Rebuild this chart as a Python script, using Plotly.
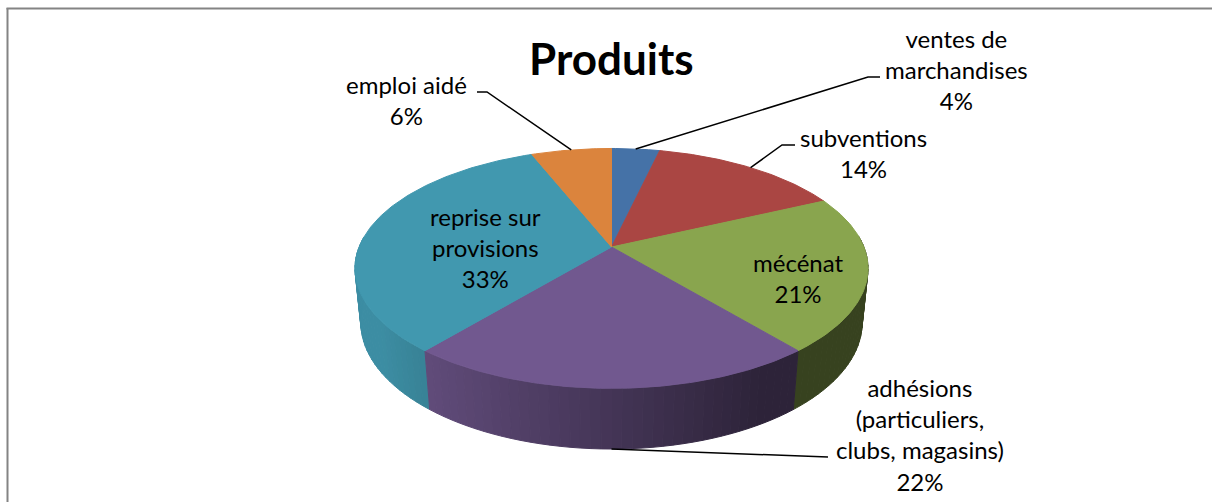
import numpy as np
import plotly.graph_objects as go

# ---------------- data ----------------
title_text = "Produits"
labels = ["ventes de<br>marchandises", "subventions", "mécénat",
          "adhésions<br>(particuliers,<br>clubs, magasins)",
          "reprise sur<br>provisions", "emploi aidé"]
values = [3.6, 14.4, 21, 22, 33, 6]
colors = ["#4572A7", "#AA4643", "#89A54E", "#71588F", "#4198AF", "#DB843D"]

# ---------------- layout / projection parameters ----------------
W, H = 1212, 502
CX, CY = 611.5, 247.0          # projected centre of top face
F, D = 1255.7, 4.975           # focal length, camera distance
SA = 0.46
CA = float(np.sqrt(1 - SA ** 2))
T = 0.2427                     # thickness of the pie
FONT = "Lato"

# label block positions (pixels) and leader line elbow points
label_pos = [(956, 69), (863, 153), (798, 278), (920, 434), (485, 247), (406, 100)]
leader_pts = {0: [(880, 77), (868, 77)], 1: [(795, 145), (782, 145)],
              3: [(828, 457)], 5: [(477, 92), (487, 92)]}


def proj(theta, h=0.0, r=1.0):
    u = r * np.sin(theta)
    w = r * np.cos(theta)
    yc = h * CA + w * SA
    d = D - h * SA + w * CA
    return CX + F * u / d, CY - F * yc / d


def shade(hexcol, f):
    hexcol = hexcol.lstrip("#")
    r, g, b = (int(hexcol[i:i + 2], 16) for i in (0, 2, 4))
    return "rgb(%d,%d,%d)" % (round(r * f), round(g * f), round(b * f))


total = float(sum(values))
fracs = [v / total for v in values]
starts = np.concatenate([[0.0], np.cumsum(fracs)[:-1]]) * 2 * np.pi
ends = np.cumsum(fracs) * 2 * np.pi
mids = (starts + ends) / 2

fig = go.Figure()

# ---- walls (drawn far to near) ----
segs = []
step = np.radians(2.0)
for i, (a0, a1) in enumerate(zip(starts, ends)):
    n = max(1, int(np.ceil((a1 - a0) / step)))
    edges = np.linspace(a0, a1, n + 1)
    for ea, eb in zip(edges[:-1], edges[1:]):
        m = (ea + eb) / 2
        if np.cos(m) < 0.08:
            segs.append((np.cos(m), i, ea, eb))
segs.sort(key=lambda s: -s[0])
for _, i, ea, eb in segs:
    th = np.linspace(ea, eb, 4)
    xt, yt = proj(th, 0.0)
    xb, yb = proj(th[::-1], -T)
    xs = np.concatenate([xt, xb, xt[:1]])
    ys = np.concatenate([yt, yb, yt[:1]])
    f = float(np.clip(0.6 - 0.4 * np.sin((ea + eb) / 2), 0.40, 0.93))
    col = shade(colors[i], f)
    fig.add_trace(go.Scatter(x=xs, y=ys, mode="lines", fill="toself",
                             fillcolor=col, line=dict(color=col, width=1),
                             hoverinfo="skip", showlegend=False))

# ---- top faces ----
for i, (a0, a1) in enumerate(zip(starts, ends)):
    n = max(3, int(np.ceil(np.degrees(a1 - a0))))
    th = np.linspace(a0, a1, n + 1)
    xa, ya = proj(th, 0.0)
    xs = np.concatenate([[CX], xa, [CX]])
    ys = np.concatenate([[CY], ya, [CY]])
    fig.add_trace(go.Scatter(x=xs, y=ys, mode="lines", fill="toself",
                             fillcolor=colors[i], line=dict(color=colors[i], width=1),
                             hoverinfo="skip", showlegend=False))

# ---- leader lines ----
for i, pts in leader_pts.items():
    if i == 3:
        ex, ey = proj(mids[i], -T)
    else:
        ex, ey = proj(mids[i], 0.0)
    xs = [p[0] for p in pts] + [float(ex)]
    ys = [p[1] for p in pts] + [float(ey)]
    fig.add_trace(go.Scatter(x=xs, y=ys, mode="lines",
                             line=dict(color="black", width=1.5),
                             hoverinfo="skip", showlegend=False))

# ---- labels ----
annotations = []
for i, lab in enumerate(labels):
    pct = "%.0f%%" % (fracs[i] * 100)
    annotations.append(dict(x=label_pos[i][0], y=label_pos[i][1], xref="x", yref="y",
                            text=lab + "<br>" + pct, showarrow=False,
                            xanchor="center", yanchor="middle", align="center",
                            font=dict(family=FONT, size=24, color="#000000")))
annotations.append(dict(x=611.5, y=58, xref="x", yref="y", text="<b>" + title_text + "</b>",
                        showarrow=False, xanchor="center", yanchor="middle",
                        font=dict(family=FONT, size=44, color="#000000")))

shapes = [
    dict(type="rect", xref="paper", yref="paper", x0=0.985, x1=1.0, y0=0, y1=1,
         fillcolor="white", line=dict(width=0), layer="above"),
    dict(type="line", xref="x", yref="y", x0=7.5, x1=7.5, y0=8, y1=H + 5,
         line=dict(color="#848484", width=2), layer="above"),
    dict(type="line", xref="x", yref="y", x0=6.5, x1=W + 5, y0=8.5, y1=8.5,
         line=dict(color="#848484", width=2), layer="above"),
]

fig.update_layout(
    width=W, height=H,
    margin=dict(l=0, r=0, t=0, b=0),
    paper_bgcolor="white", plot_bgcolor="white",
    xaxis=dict(range=[0, W], visible=False, fixedrange=True),
    yaxis=dict(range=[H, 0], visible=False, fixedrange=True),
    annotations=annotations, shapes=shapes, showlegend=False,
)

fig.write_html("out.html", config={"displayModeBar": False},
               post_script="document.documentElement.style.overflow='hidden';"
                           "document.body.style.margin='0';document.body.style.overflow='hidden';")
